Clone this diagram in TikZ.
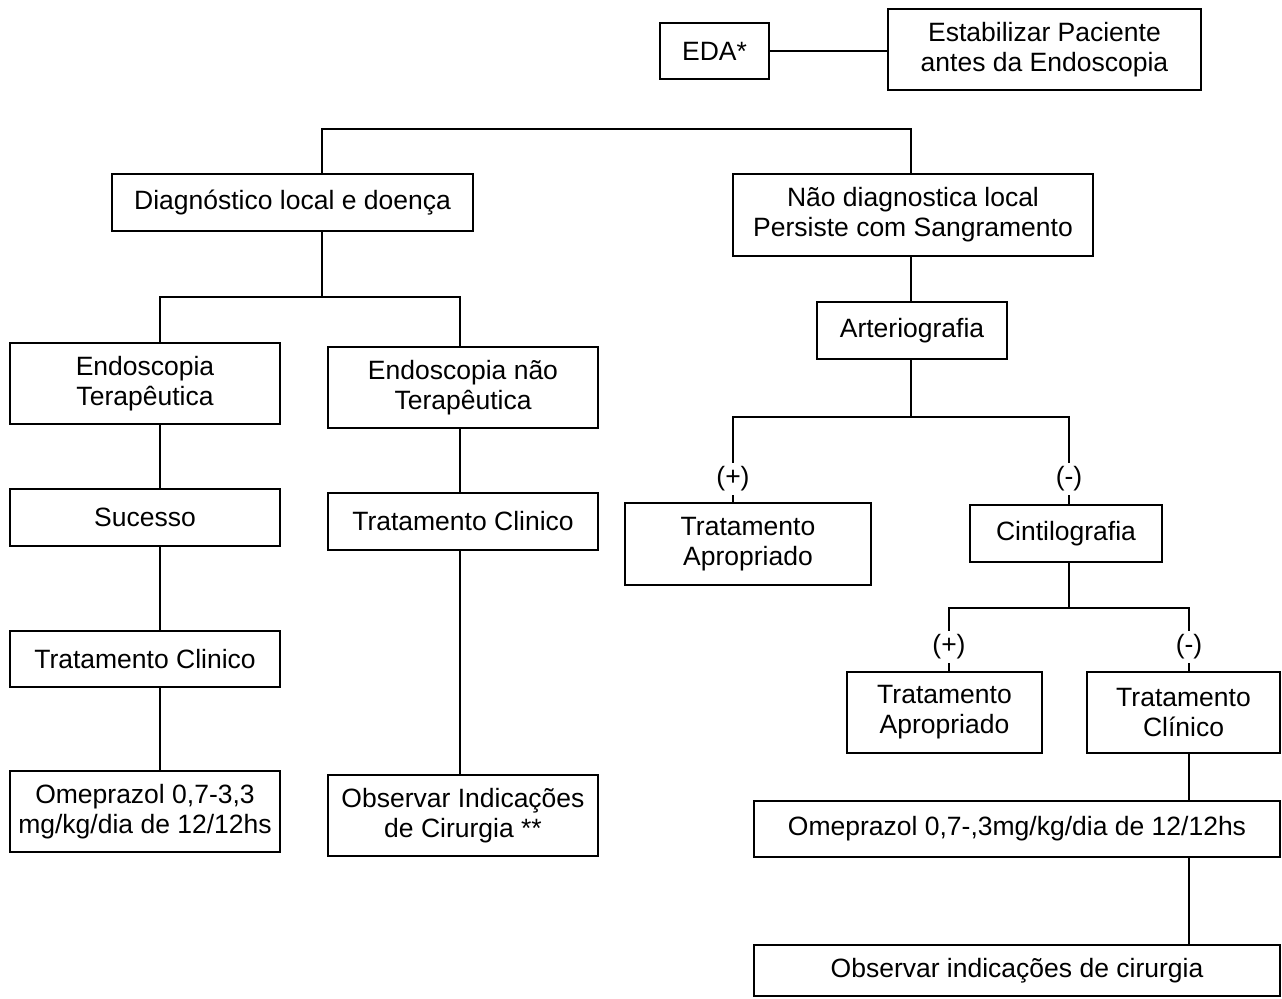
\documentclass[tikz,border=0pt]{standalone}
\usepackage{fontspec}
\setmainfont{Liberation Sans}
\usepackage{tikz}

\begin{document}
\begin{tikzpicture}[x=0.5pt, y=-0.5pt, line width=1pt,
    box/.style={draw, line width=1pt, align=center, inner sep=0pt,
      font=\fontsize{13.25}{15}\selectfont},
    sign/.style={inner sep=1.5pt, font=\fontsize{13.25}{15}\selectfont}]
  \useasboundingbox (0,0) rectangle (1282,998);
  % top row
  \node[box, minimum width=54.5pt, minimum height=28pt] (eda) at (714.5,51) {EDA*};
  \node[box, minimum width=156.5pt, minimum height=40.5pt] (estab) at (1044.5,49.5)
    {Estabilizar Paciente\\antes da Endoscopia};
  \draw (eda.east) -- (eda.east -| estab.west);
  % first split
  \coordinate (topL) at (322,129);
  \coordinate (topR) at (911,129);
  \node[box, minimum width=180.5pt, minimum height=28.5pt] (diag) at (292.5,202.5)
    {Diagnóstico local e doença};
  \node[box, minimum width=180pt, minimum height=41pt] (naodiag) at (913,215)
    {Não diagnostica local\\Persiste com Sangramento};
  \draw (diag.north -| topL) -- (topL) -- (topR) -- (naodiag.north -| topR);
  % left branch
  \coordinate (d0) at (322,297);
  \coordinate (d1) at (160,297);
  \coordinate (d2) at (460,297);
  \node[box, minimum width=135pt, minimum height=40.5pt] (endoT) at (145,383.5)
    {Endoscopia\\Terapêutica};
  \node[box, minimum width=135pt, minimum height=40.5pt] (endoN) at (463,387.5)
    {Endoscopia não\\Terapêutica};
  \node[box, minimum width=135pt, minimum height=28.5pt] (sucesso) at (145,517.5) {Sucesso};
  \node[box, minimum width=135pt, minimum height=28.5pt] (tratM) at (463,521.5) {Tratamento Clinico};
  \node[box, minimum width=135pt, minimum height=28pt] (tratL) at (145,659) {Tratamento Clinico};
  \node[box, minimum width=135pt, minimum height=40.5pt] (omeL) at (145,811.5)
    {Omeprazol 0,7-3,3\\mg/kg/dia de 12/12hs};
  \node[box, minimum width=135pt, minimum height=40.5pt] (obsM) at (463,815.5)
    {Observar Indicações\\de Cirurgia **};
  \draw (diag.south -| d0) -- (d0);
  \draw (endoT.north -| d1) -- (d1) -- (d2) -- (endoN.north -| d2);
  \draw (endoT.south -| d1) -- (sucesso.north -| d1);
  \draw (sucesso.south -| d1) -- (tratL.north -| d1);
  \draw (tratL.south -| d1) -- (omeL.north -| d1);
  \draw (endoN.south -| d2) -- (tratM.north -| d2);
  \draw (tratM.south -| d2) -- (obsM.north -| d2);
  % right branch
  \node[box, minimum width=95pt, minimum height=28.5pt] (arterio) at (912,330.5) {Arteriografia};
  \draw (naodiag.south -| topR) -- (arterio.north -| topR);
  \coordinate (a1) at (733,417);
  \coordinate (a2) at (1069,417);
  \node[sign] (pA) at (733,479) {(+)};
  \node[sign] (mA) at (1069,479) {(-)};
  \node[box, minimum width=123pt, minimum height=41pt] (tapA) at (748,544)
    {Tratamento\\Apropriado};
  \node[box, minimum width=96pt, minimum height=28.5pt] (cinti) at (1066,533.5) {Cintilografia};
  \draw (arterio.south -| topR) -- (topR |- a1);
  \draw (pA) -- (a1) -- (a2) -- (mA);
  \draw (pA) -- (tapA.north -| pA);
  \draw (mA) -- (cinti.north -| mA);
  % after cintilografia
  \coordinate (c0) at (1069,608);
  \coordinate (c1) at (949,608);
  \coordinate (c2) at (1189,608);
  \node[sign] (pB) at (949,647) {(+)};
  \node[sign] (mB) at (1189,647) {(-)};
  \node[box, minimum width=97.5pt, minimum height=40.5pt] (tapB) at (944.5,712.5)
    {Tratamento\\Apropriado};
  \node[box, minimum width=96.5pt, minimum height=40.5pt] (tclin) at (1183.5,712.5)
    {Tratamento\\Clínico};
  \node[box, minimum width=263pt, minimum height=28pt] (omeR) at (1017,829)
    {Omeprazol 0,7-,3mg/kg/dia de 12/12hs};
  \node[box, minimum width=263pt, minimum height=25.5pt] (obsR) at (1017,970.5)
    {Observar indicações de cirurgia};
  \draw (cinti.south -| c0) -- (c0);
  \draw (pB) -- (c1) -- (c2) -- (mB);
  \draw (pB) -- (tapB.north -| pB);
  \draw (mB) -- (tclin.north -| mB);
  \draw (tclin.south -| mB) -- (omeR.north -| mB);
  \draw (omeR.south -| mB) -- (obsR.north -| mB);
\end{tikzpicture}
\end{document}
